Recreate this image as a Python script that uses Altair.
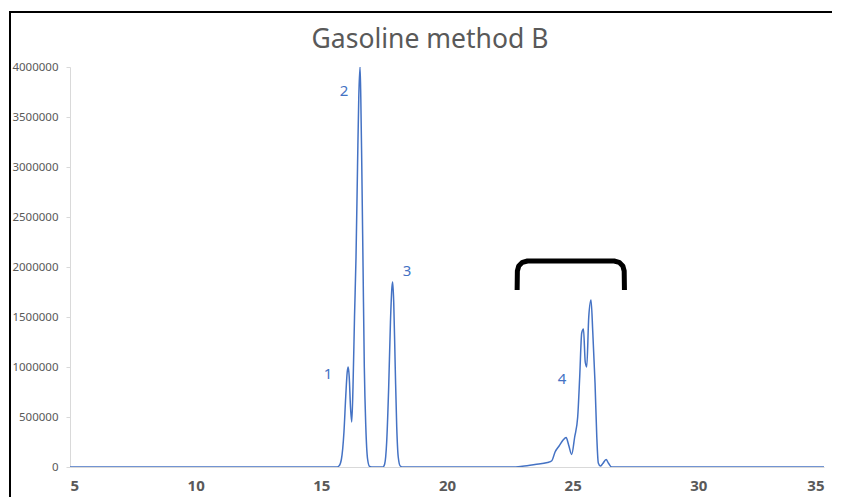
import altair as alt
import pandas as pd

# Chromatogram trace (retention time, min ; signal)
rt = [5.0, 15.6, 15.7, 15.8, 15.9, 15.97, 16.03, 16.07, 16.11, 16.16, 16.21, 16.26, 16.32, 16.38,
      16.44, 16.49, 16.54, 16.57, 16.61, 16.66, 16.71, 16.77, 16.84, 16.92, 17.0,
      17.45, 17.52, 17.6, 17.68, 17.75, 17.81, 17.84, 17.88, 17.94, 18.0, 18.06, 18.14, 18.25,
      22.6, 23.0, 23.5, 24.0, 24.17, 24.3, 24.46, 24.62, 24.74, 24.84, 24.96, 25.08, 25.2,
      25.28, 25.36, 25.43, 25.5, 25.56, 25.64, 25.73, 25.8, 25.89, 25.96, 26.02, 26.1, 26.2,
      26.33, 26.42, 26.55, 35.0]
signal = [0, 0, 10000, 80000, 350000, 700000, 950000, 1000000, 900000, 600000, 450000, 800000,
          1500000, 2100000, 3000000, 3700000, 4000000, 3700000, 3000000, 2000000, 1000000, 400000,
          80000, 5000, 0,
          0, 30000, 250000, 800000, 1450000, 1800000, 1850000, 1650000, 1000000, 400000, 100000,
          10000, 0,
          0, 8000, 25000, 45000, 63000, 150000, 210000, 270000, 295000, 220000, 125000, 300000,
          500000, 900000, 1340000, 1380000, 1050000, 1000000, 1500000, 1670000, 1350000, 840000,
          300000, 40000, 10000, 35000, 75000, 40000, 0, 0]

# Peak labels
label_text = ["1", "2", "3", "4"]
label_x = [15.27, 15.9, 18.41, 24.58]
label_y = [930000, 3760000, 1960000, 880000]

# Bracket over the peak cluster
br_x = [22.79, 22.80, 22.854, 23.0, 23.2, 26.65, 26.85, 26.996, 27.05, 27.06]
br_y = [1770000, 1960000, 2010000, 2046600, 2060000, 2060000, 2046600, 2010000, 1960000, 1770000]

title_text = "Gasoline method B"
x_ticks = [5, 10, 15, 20, 25, 30, 35]
y_ticks = [0, 500000, 1000000, 1500000, 2000000, 2500000, 3000000, 3500000, 4000000]

trace = pd.DataFrame({"rt": rt, "signal": signal})
labels = pd.DataFrame({"t": label_text, "x": label_x, "y": label_y})
bracket = pd.DataFrame({"x": br_x, "y": br_y, "o": list(range(len(br_x)))})

W, H = 754, 400
GRAY = "#595959"
BLUE = "#4472C4"
FONT = "Noto Sans"

xs = alt.Scale(domain=[5, 35], nice=False)
ys = alt.Scale(domain=[0, 4000000], nice=False)

line = alt.Chart(trace).mark_line(color=BLUE, strokeWidth=1.5, interpolate="monotone", clip=True).encode(
    x=alt.X("rt:Q", scale=xs, axis=alt.Axis(
        values=x_ticks, title=None, grid=False, ticks=False, domainColor="#D9D9D9",
        labelFont=FONT, labelFontSize=15, labelFontWeight="bold", labelColor=GRAY,
        labelPadding=11)),
    y=alt.Y("signal:Q", scale=ys, axis=alt.Axis(
        values=y_ticks, format="d", title=None, grid=False, tickSize=4, tickColor="#D9D9D9",
        domainColor="#D9D9D9", labelFont=FONT, labelFontSize=11.5, labelColor=GRAY,
        labelPadding=8)),
)

text = alt.Chart(labels).mark_text(color=BLUE, font=FONT, fontSize=15).encode(
    x=alt.X("x:Q", scale=xs), y=alt.Y("y:Q", scale=ys), text="t:N")

brk = alt.Chart(bracket).mark_line(color="black", strokeWidth=5, strokeCap="butt",
                                   strokeJoin="round").encode(
    x=alt.X("x:Q", scale=xs), y=alt.Y("y:Q", scale=ys), order="o:Q")

title = alt.Chart(pd.DataFrame({"t": [title_text]})).mark_text(
    color=GRAY, font=FONT, fontSize=26.5, baseline="middle", align="center").encode(
    x=alt.value(360), y=alt.value(-27), text="t:N")

frame_top = alt.Chart(pd.DataFrame({"a": [0]})).mark_rule(color="black", strokeWidth=2).encode(
    x=alt.value(-60), x2=alt.value(800), y=alt.value(-55))
frame_left = alt.Chart(pd.DataFrame({"a": [0]})).mark_rule(color="black", strokeWidth=2).encode(
    x=alt.value(-60), y=alt.value(-56), y2=alt.value(440))

chart = alt.layer(line, text, brk, title, frame_top, frame_left).properties(
    width=W, height=H,
    autosize=alt.AutoSizeParams(type="none"),
    padding={"left": 62, "top": 59, "right": 8, "bottom": 30},
).configure_view(stroke=None)

chart.save("out.html", embed_options={"renderer": "svg", "actions": False})
